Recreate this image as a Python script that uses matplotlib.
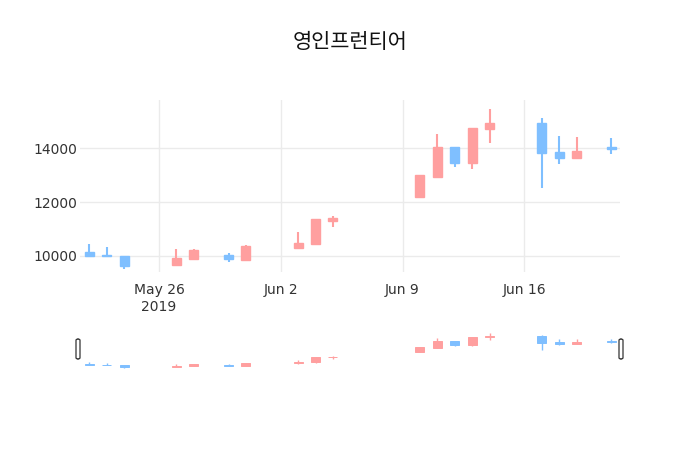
import matplotlib
matplotlib.use('Agg')
import matplotlib.pyplot as plt
import matplotlib.dates as mdates
from matplotlib.patches import FancyBboxPatch
import numpy as np
import pandas as pd

plt.rcParams['font.family'] = ['DejaVu Sans']

title = '영인프런티어'
dates = ['2019-05-22', '2019-05-23', '2019-05-24', '2019-05-27', '2019-05-28',
         '2019-05-30', '2019-05-31', '2019-06-03', '2019-06-04', '2019-06-05',
         '2019-06-10', '2019-06-11', '2019-06-12', '2019-06-13', '2019-06-14',
         '2019-06-17', '2019-06-18', '2019-06-19', '2019-06-21']
open_ = [10150, 10050, 10000, 9670, 9890, 10040, 9850, 10290, 10450, 11310,
         12180, 12950, 14040, 13450, 14710, 14960, 13850, 13630, 14060]
close = [10000, 9980, 9620, 9910, 10220, 9880, 10370, 10490, 11360, 11400,
         13010, 14040, 13450, 14760, 14960, 13820, 13650, 13890, 13960]
high = [10450, 10320, 10000, 10260, 10250, 10100, 10400, 10900, 11360, 11490,
        13010, 14535, 14040, 14760, 15460, 15120, 14460, 14410, 14380]
low = [9980, 9980, 9510, 9650, 9850, 9770, 9830, 10250, 10410, 11070,
       12180, 12950, 13300, 13230, 14210, 12540, 13410, 13630, 13780]

x_ticks = ['2019-05-26', '2019-06-02', '2019-06-09', '2019-06-16']
x_tick_labels = ['May 26\n2019', 'Jun 2', 'Jun 9', 'Jun 16']
y_ticks = [10000, 12000, 14000]

inc_color = '#ff9f9f'
dec_color = '#7fbfff'

x = mdates.date2num(pd.to_datetime(dates))
o = np.array(open_, dtype=float)
c = np.array(close, dtype=float)
h = np.array(high, dtype=float)
l = np.array(low, dtype=float)
colors = [inc_color if cc >= oo else dec_color for oo, cc in zip(o, c)]

fig = plt.figure(figsize=(7, 4.5), dpi=100)
W, H = 700.0, 450.0


def draw_candles(ax, body_lw, wick_lw):
    ax.vlines(x, l, h, colors=colors, linewidth=wick_lw, zorder=2)
    ax.bar(x, np.abs(c - o), bottom=np.minimum(o, c), width=0.52,
           color=colors, edgecolor=colors, linewidth=body_lw, zorder=3)


xlim = (x.min() - 0.54, x.max() + 0.5)

# main chart
ax = fig.add_axes([80 / W, 1 - 272 / H, 540 / W, 172 / H])
draw_candles(ax, 1.0, 1.5)
ax.set_xlim(*xlim)
ax.set_ylim(9400, 15800)
ax.set_xticks(mdates.date2num(pd.to_datetime(x_ticks)))
ax.set_xticklabels(x_tick_labels)
ax.set_yticks(y_ticks)
ax.set_yticklabels([str(v) for v in y_ticks])
ax.grid(True, color='#ebebeb', linewidth=1)
ax.set_axisbelow(True)
for s in ax.spines.values():
    s.set_visible(False)
ax.tick_params(length=0, colors='#333333', labelsize=10)
ax.tick_params(axis='x', pad=8)
ax.tick_params(axis='y', pad=2)
for t in ax.get_xticklabels():
    t.set_linespacing(1.3)

# range slider
sl = fig.add_axes([80 / W, 1 - 370 / H, 540 / W, 40.5 / H])
draw_candles(sl, 0.7, 1.0)
sl.set_xlim(*xlim)
sl.set_ylim(9160, 16060)
sl.set_xticks([])
sl.set_yticks([])
for s in sl.spines.values():
    s.set_visible(False)

for hx in (78, 621):
    fig.patches.append(FancyBboxPatch(((hx - 2) / W, 1 - 359 / H), 4 / W, 20 / H,
                                      boxstyle='round,pad=0,rounding_size=0.003',
                                      transform=fig.transFigure, facecolor='white',
                                      edgecolor='#333333', linewidth=0.9))

fig.text(0.5, 1 - 42 / H, title, ha='center', va='center', fontsize=15,
         color='#111111', family=['Noto Sans CJK KR', 'DejaVu Sans'])

fig.savefig('out.png', dpi=100)
